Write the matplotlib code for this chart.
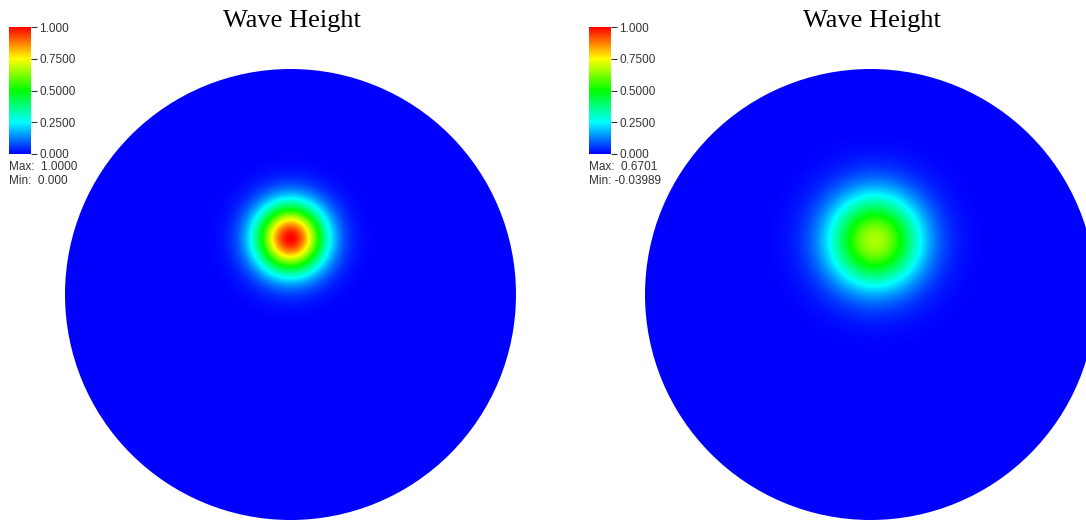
import numpy as np
import matplotlib
matplotlib.use("Agg")
import matplotlib.pyplot as plt
from matplotlib.colors import LinearSegmentedColormap
from matplotlib.patches import Circle

# ---- data ----
titles = ["Wave Height", "Wave Height"]
bump_x = [0.0, 0.02]          # bump centre x (disk radius = 1)
bump_y = [0.25, 0.24]         # bump centre y
bump_amp = [1.0, 0.67]        # peak height
bump_sigma = [0.107, 0.145]   # bump width
max_labels = ["Max:  1.0000", "Max:  0.6701"]
min_labels = ["Min:  0.000", "Min: -0.03989"]
cbar_ticks = [0.0, 0.25, 0.5, 0.75, 1.0]
cbar_ticklabels = ["0.000", "0.2500", "0.5000", "0.7500", "1.000"]
cmap_colors = ["#0000ff", "#00ffff", "#00ff00", "#ffff00", "#ff0000"]

W, H = 1086, 521
fig = plt.figure(figsize=(W / 100, H / 100), dpi=100)
cmap = LinearSegmentedColormap.from_list("hotvisit", cmap_colors, N=256)


def px_axes(x0, y0, w, h):
    return fig.add_axes([x0 / W, 1 - (y0 + h) / H, w / W, h / H])


disk_left = [65, 645]
disk_top = 69
disk_size = 451
cbar_left = [9, 589]
panel_centre = [292, 872]

n = 500
g = np.linspace(-1, 1, n)
X, Y = np.meshgrid(g, g)

for i in range(2):
    ax = px_axes(disk_left[i], disk_top, disk_size, disk_size)
    r2 = (X - bump_x[i]) ** 2 + (Y - bump_y[i]) ** 2
    Z = bump_amp[i] * np.exp(-r2 / (2 * bump_sigma[i] ** 2))
    im = ax.imshow(Z, extent=[-1, 1, -1, 1], origin="lower", cmap=cmap,
                   vmin=0, vmax=1, interpolation="bilinear")
    circ = Circle((0, 0), 1.0, transform=ax.transData, facecolor="none",
                  edgecolor="none")
    ax.add_patch(circ)
    im.set_clip_path(circ)
    ax.set_xlim(-1, 1)
    ax.set_ylim(-1, 1)
    ax.set_aspect("equal")
    ax.axis("off")

    # title
    fig.text(panel_centre[i] / W, 1 - 21 / H, titles[i], ha="center",
             va="center", fontsize=19, family="Liberation Serif", color="black")

    # colour bar
    cax = px_axes(cbar_left[i], 27, 22, 127)
    grad = np.linspace(0, 1, 256).reshape(-1, 1)
    cax.imshow(grad, extent=[0, 1, 0, 1], origin="lower", cmap=cmap,
               aspect="auto", vmin=0, vmax=1)
    cax.set_xlim(0, 1)
    cax.set_ylim(0, 1)
    cax.set_xticks([])
    cax.yaxis.tick_right()
    cax.set_yticks(cbar_ticks)
    cax.set_yticklabels(cbar_ticklabels, family="Liberation Sans")
    cax.tick_params(axis="y", length=4, width=0.8, color="#333333",
                    labelsize=8.5, labelcolor="#333333", pad=2)
    for sp in cax.spines.values():
        sp.set_visible(False)

    fig.text(cbar_left[i] / W, 1 - 167 / H, max_labels[i], ha="left",
             va="center", fontsize=8.5, family="Liberation Sans", color="#333333")
    fig.text(cbar_left[i] / W, 1 - 181 / H, min_labels[i], ha="left",
             va="center", fontsize=8.5, family="Liberation Sans", color="#333333")

fig.savefig("out.png", dpi=100)
